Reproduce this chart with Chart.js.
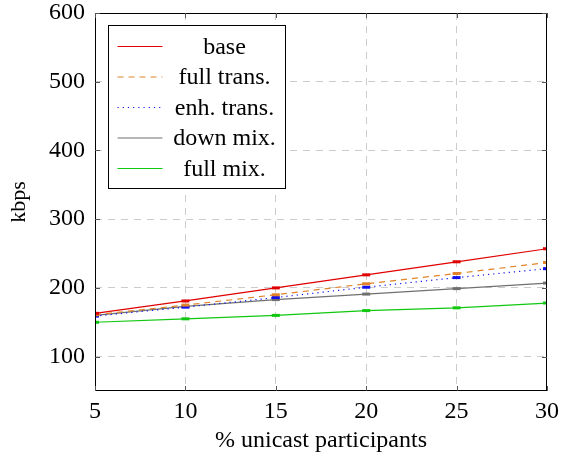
<!DOCTYPE html>
<html>
<head>
<meta charset="utf-8">
<script src="https://cdn.jsdelivr.net/npm/chart.js@4"></script>
<style>
  html, body { margin: 0; padding: 0; background: #fff; }
  #wrap { width: 561px; height: 456px; }
</style>
</head>
<body>
<div id="wrap"><canvas id="chart" width="561" height="456"></canvas></div>
<script>
// data
const participants = [5, 10, 15, 20, 25, 30];
const seriesNames = ["base", "full trans.", "enh. trans.", "down mix.", "full mix."];
const base = [163, 181, 200, 219, 238, 257];
const fullTrans = [161, 175, 190, 206, 221, 237];
const enhTrans = [159, 172, 186, 201, 215, 228];
const downMix = [160, 173, 183, 191, 199, 207];
const fullMix = [150, 155, 160, 167, 171, 178];
const yTicks = [100, 200, 300, 400, 500, 600];
const xTicks = [5, 10, 15, 20, 25, 30];

const FONT = "'Liberation Serif', 'DejaVu Serif', serif";

function pts(vals) {
  return vals.map((v, i) => ({ x: participants[i], y: v }));
}

function ds(label, vals, color, dash) {
  return {
    label: label,
    data: pts(vals),
    borderColor: color,
    backgroundColor: color,
    borderWidth: 1.2,
    borderDash: dash,
    pointStyle: "line",
    pointRadius: 4,
    pointBorderWidth: 3,
    pointBorderColor: color,
    tension: 0,
  };
}

// no grid line where it sits on the frame
function gridColor(ticks) {
  return ctx => {
    const v = ctx.tick ? ctx.tick.value : null;
    if (v === ticks[ticks.length - 1] || v === 5) return "rgba(0,0,0,0)";
    return "#cccccc";
  };
}

// legend inside the plot + frame + inward ticks
const frameLegend = {
  id: "frameLegend",
  afterDatasetsDraw(chart) {
    const c = chart.ctx;
    const a = chart.chartArea;
    const xs = chart.scales.x, ys = chart.scales.y;
    c.save();
    c.strokeStyle = "#000";
    c.lineWidth = 1;
    c.setLineDash([]);
    c.strokeRect(a.left + 0.5, a.top + 0.5, a.right - a.left - 1, a.bottom - a.top - 1);
    c.strokeStyle = "#555";
    xTicks.forEach(t => {
      const px = Math.round(xs.getPixelForValue(t)) + 0.5;
      c.beginPath();
      c.moveTo(px, a.bottom); c.lineTo(px, a.bottom - 5);
      c.moveTo(px, a.top); c.lineTo(px, a.top + 5);
      c.stroke();
    });
    yTicks.forEach(t => {
      const py = Math.round(ys.getPixelForValue(t)) + 0.5;
      c.beginPath();
      c.moveTo(a.left, py); c.lineTo(a.left + 5, py);
      c.moveTo(a.right, py); c.lineTo(a.right - 5, py);
      c.stroke();
    });

    // legend box
    const bx = a.left + 13.5, by = a.top + 12.5, bw = 177, bh = 163;
    c.fillStyle = "#fff";
    c.fillRect(bx, by, bw, bh);
    c.strokeStyle = "#000";
    c.strokeRect(bx, by, bw, bh);
    c.font = "24px " + FONT;
    c.textAlign = "center";
    c.textBaseline = "middle";
    chart.data.datasets.forEach((d, i) => {
      const ry = by + 21 + i * 30.5;
      c.strokeStyle = d.borderColor;
      c.lineWidth = 1.2;
      c.setLineDash(d.borderDash || []);
      c.beginPath();
      c.moveTo(bx + 9, ry);
      c.lineTo(bx + 54, ry);
      c.stroke();
      c.setLineDash([]);
      c.fillStyle = "#000";
      c.fillText(d.label, bx + 116, ry + 1);
    });
    c.restore();
  }
};

new Chart(document.getElementById("chart"), {
  type: "line",
  data: {
    datasets: [
      ds(seriesNames[0], base, "#e00000", []),
      ds(seriesNames[1], fullTrans, "#e0832a", [6, 5]),
      ds(seriesNames[2], enhTrans, "#1010ee", [1.2, 4]),
      ds(seriesNames[3], downMix, "#707070", []),
      ds(seriesNames[4], fullMix, "#10c810", []),
    ]
  },
  options: {
    responsive: false,
    animation: false,
    layout: { padding: { left: 0, right: 14, top: 13, bottom: 0 } },
    plugins: {
      legend: { display: false },
      tooltip: { enabled: false },
    },
    scales: {
      x: {
        type: "linear",
        min: 5,
        max: 30,
        afterBuildTicks: axis => { axis.ticks = xTicks.map(v => ({ value: v })); },
        afterFit: s => { s.height = 65; s.paddingLeft = 0; s.paddingRight = 0; },
        grid: {
          color: gridColor(xTicks),
          lineWidth: 1,
          drawTicks: false,
        },
        border: { display: false, dash: [7, 6] },
        ticks: {
          color: "#000",
          padding: 6,
          maxRotation: 0,
          font: { family: FONT, size: 24 },
        },
        title: {
          display: true,
          text: "% unicast participants",
          color: "#000",
          padding: { top: 0, bottom: 1 },
          font: { family: FONT, size: 24 },
        },
      },
      y: {
        type: "linear",
        min: 50,
        max: 600,
        afterBuildTicks: axis => { axis.ticks = yTicks.map(v => ({ value: v })); },
        afterFit: s => { s.width = 95; s.paddingTop = 0; s.paddingBottom = 0; },
        grid: {
          color: gridColor(yTicks),
          lineWidth: 1,
          drawTicks: false,
        },
        border: { display: false, dash: [7, 6] },
        ticks: {
          color: "#000",
          padding: 10,
          font: { family: FONT, size: 24 },
        },
        title: {
          display: true,
          text: "kbps",
          color: "#000",
          padding: { top: 6, bottom: 0 },
          font: { family: FONT, size: 22 },
        },
      },
    },
  },
  plugins: [frameLegend],
});
</script>
</body>
</html>
